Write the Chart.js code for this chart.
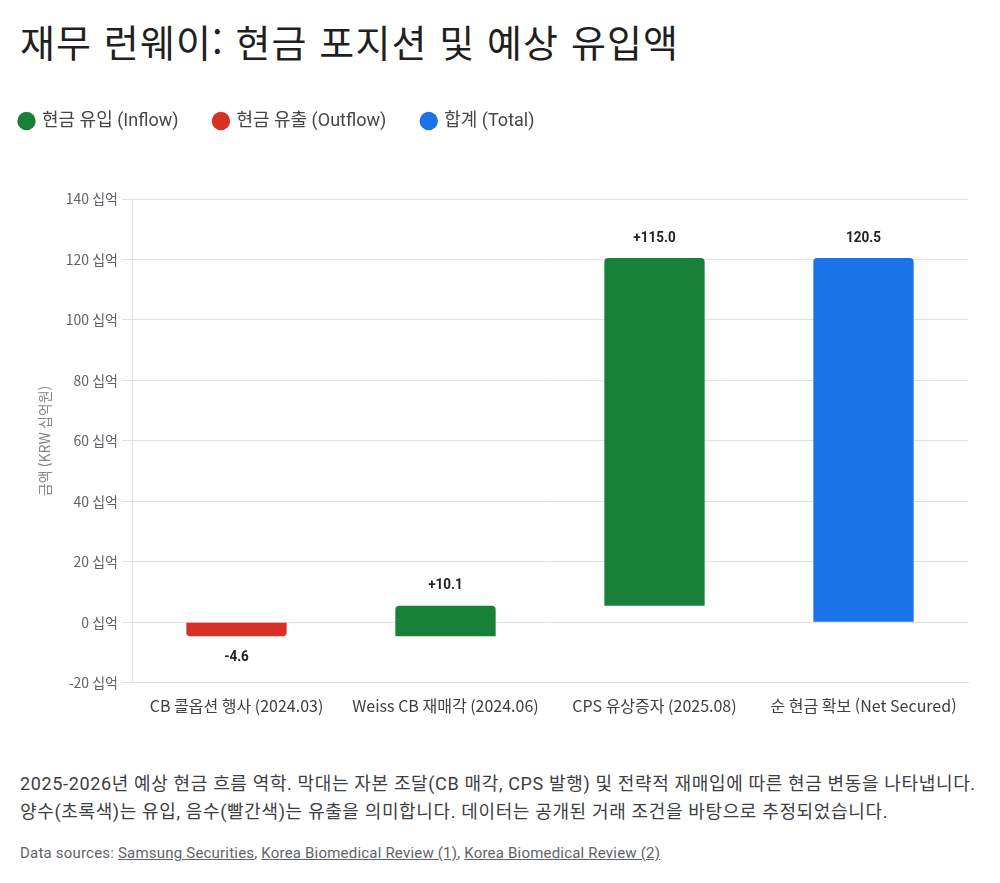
<!DOCTYPE html>
<html lang="ko">
<head>
<meta charset="utf-8">
<script src="https://cdn.jsdelivr.net/npm/chart.js@4"></script>
<style>
  html, body { margin: 0; padding: 0; background: #fff; }
  body { width: 1000px; height: 883px; position: relative; overflow: hidden;
         font-family: Roboto, "Noto Sans CJK KR", sans-serif; }
  h1 { position: absolute; left: 20px; top: 13px; margin: 0; font-size: 38px; font-weight: 400;
       color: #1f1f1f; font-family: "Noto Sans CJK KR", Roboto, sans-serif; letter-spacing: 1.1px; white-space: nowrap; }
  #wrap { position: absolute; left: -16px; top: 76px; width: 996px; height: 646px; }
  #caption { position: absolute; left: 20px; top: 770px; font-size: 18px; line-height: 28px; white-space: nowrap;
             color: #3c4043; font-family: Roboto, "Noto Sans CJK KR", sans-serif; letter-spacing: 0.65px; }
  #sources { position: absolute; left: 20px; top: 844px; font-size: 15px; color: #5f6368; letter-spacing: 0.2px; white-space: nowrap; }
  #sources span { text-decoration: underline; }
</style>
</head>
<body>
<h1>재무 런웨이: 현금 포지션 및 예상 유입액</h1>
<div id="wrap"><canvas id="c"></canvas></div>
<div id="caption">2025-2026년 예상 현금 흐름 역학. 막대는 자본 조달(CB 매각, CPS 발행) 및 전략적 재매입에 따른 현금 변동을 나타냅니다.<br>양수(초록색)는 유입, 음수(빨간색)는 유출을 의미합니다. 데이터는 공개된 거래 조건을 바탕으로 추정되었습니다.</div>
<div id="sources">Data sources: <span>Samsung Securities</span>, <span>Korea Biomedical Review (1)</span>, <span>Korea Biomedical Review (2)</span></div>
<script>
const categories = ['CB 콜옵션 행사 (2024.03)', 'Weiss CB 재매각 (2024.06)', 'CPS 유상증자 (2025.08)', '순 현금 확보 (Net Secured)'];
const changes = [-4.6, 10.1, 115.0];
const netTotal = 120.5;
const valueLabels = ['-4.6', '+10.1', '+115.0', '120.5'];
const seriesNames = ['현금 유입 (Inflow)', '현금 유출 (Outflow)', '합계 (Total)'];
const yTicks = [-20, 0, 20, 40, 60, 80, 100, 120, 140];

const GREEN = '#188038', RED = '#d93025', BLUE = '#1a73e8';

// build floating ranges from the cumulative running balance
const inflow = [], outflow = [], total = [];
let run = 0;
changes.forEach((v) => {
  const start = run, end = Math.round((run + v) * 10) / 10;
  if (v >= 0) { inflow.push([start, end]); outflow.push(null); }
  else { outflow.push([start, end]); inflow.push(null); }
  total.push(null);
  run = end;
});
inflow.push(null); outflow.push(null); total.push([0, netTotal]);

const labelPlugin = {
  id: 'valueLabels',
  afterDatasetsDraw(chart) {
    const ctx = chart.ctx;
    ctx.save();
    ctx.font = 'bold 15px Roboto, "Noto Sans CJK KR", sans-serif';
    ctx.fillStyle = '#202124';
    ctx.textAlign = 'center';
    ctx.textBaseline = 'middle';
    chart.data.datasets.forEach((ds, di) => {
      const meta = chart.getDatasetMeta(di);
      meta.data.forEach((el, i) => {
        const raw = ds.data[i];
        if (!raw) return;
        const neg = raw[1] < raw[0];
        const top = Math.min(el.y, el.base), bottom = Math.max(el.y, el.base);
        const y = neg ? bottom + 21 : top - 20;
        ctx.save();
        ctx.translate(el.x, y);
        ctx.scale(0.9, 1);
        ctx.fillText(valueLabels[i], 0, 0);
        ctx.restore();
      });
    });
    ctx.restore();
  }
};

const legendGap = {
  id: 'legendGap',
  beforeInit(chart) {
    const orig = chart.legend.fit;
    chart.legend.fit = function () { orig.bind(chart.legend)(); this.height += 59; };
  }
};

const common = { grouped: false, barPercentage: 0.96, categoryPercentage: 0.5, borderRadius: 4, borderSkipped: 'start' };

new Chart(document.getElementById('c'), {
  type: 'bar',
  data: {
    labels: categories,
    datasets: [
      Object.assign({ label: seriesNames[0], data: inflow, backgroundColor: GREEN }, common),
      Object.assign({ label: seriesNames[1], data: outflow, backgroundColor: RED }, common),
      Object.assign({ label: seriesNames[2], data: total, backgroundColor: BLUE }, common),
    ]
  },
  options: {
    responsive: true,
    maintainAspectRatio: false,
    animation: false,
    layout: { padding: { right: 12, top: 0, bottom: 0, left: 0 } },
    plugins: {
      legend: {
        position: 'top', align: 'start',
        labels: { usePointStyle: true, pointStyle: 'circle', boxWidth: 13, boxHeight: 13, padding: 36,
                  color: '#444746', font: { size: 18, family: 'Roboto, "Noto Sans CJK KR", sans-serif' } }
      },
      tooltip: { enabled: false }
    },
    scales: {
      x: {
        grid: { display: false },
        border: { display: true, color: '#dadce0' },
        ticks: { color: '#3c4043', padding: 6, font: { size: 16, family: '"Noto Sans CJK KR", Roboto, sans-serif' } }
      },
      y: {
        min: -20, max: 140,
        afterBuildTicks(axis) { axis.ticks = yTicks.map(v => ({ value: v })); },
        afterFit(axis) { axis.width = 148; },
        grid: { color: '#e0e0e0', tickLength: 10, drawTicks: true, tickColor: '#e0e0e0' },
        border: { display: true, color: '#e0e0e0' },
        ticks: { color: '#5f6368', padding: 4, font: { size: 14, family: '"Noto Sans CJK KR", Roboto, sans-serif' },
                 callback: (v) => v + ' 십억' },
        title: { display: true, text: '금액 (KRW 십억원)', color: '#80868b', padding: { top: 52, bottom: 0 },
                 font: { size: 14, family: '"Noto Sans CJK KR", Roboto, sans-serif' } }
      }
    }
  },
  plugins: [labelPlugin, legendGap]
});
</script>
</body>
</html>
